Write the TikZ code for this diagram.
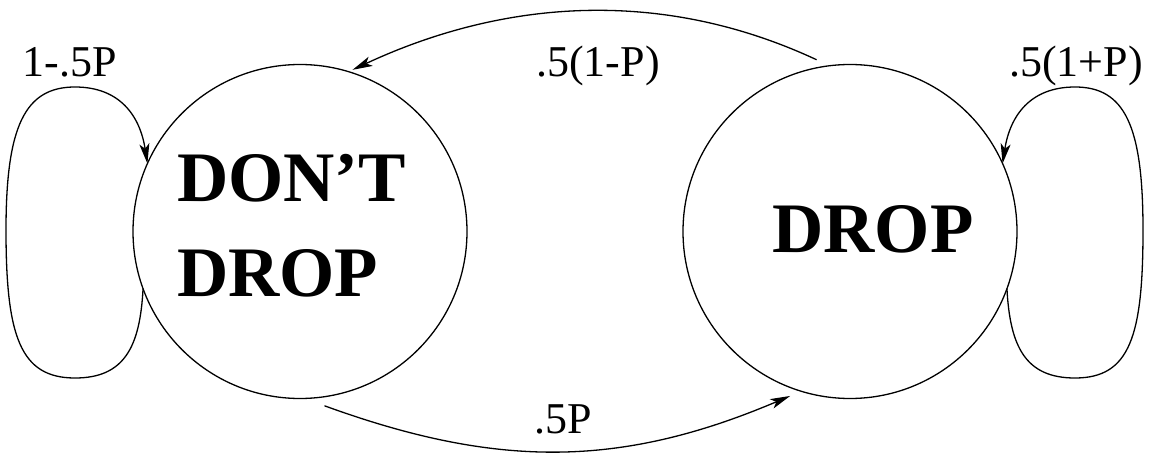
\documentclass[tikz,border=0pt]{standalone}
\usepackage{fontspec}
\setmainfont{Liberation Serif}
\usetikzlibrary{arrows.meta}
\begin{document}
\begin{tikzpicture}[x=1pt,y=1pt,
  state/.style={circle,draw,line width=1.3pt,minimum size=334pt,inner sep=0pt,outer sep=0pt},
  statetext/.style={inner sep=0pt,font=\fontsize{71}{95}\selectfont\bfseries},
  prob/.style={inner sep=0pt,font=\fontsize{44}{50}\selectfont},
  edge/.style={line width=1.3pt,-{Stealth[length=20pt,width=10pt,inset=5pt]}}]
\useasboundingbox (0,0) rectangle (1149,456);
\node[state] (L) at (300,224.5) {};
\node[state] (R) at (850,224.5) {};
\node[statetext,align=left,anchor=west] (Lt) at (177,230) {DON’T\\DROP};
\node[statetext,anchor=base] (Rt) at (873,204) {DROP};
% self loops
\draw[edge] (L.200) .. controls (140,110) and (125,78) .. (75,78)
  .. controls (20,78) and (6,120) .. (6,226)
  .. controls (6,330) and (25,369) .. (75,369)
  .. controls (120,369) and (140,340) .. (L.156);
\draw[edge] (R.-20) .. controls (1010,110) and (1025,78) .. (1075,78)
  .. controls (1130,78) and (1143,120) .. (1143,226)
  .. controls (1143,330) and (1125,369) .. (1075,369)
  .. controls (1030,369) and (1010,340) .. (R.24);
% transitions
\draw[edge] ([shift={(101.5:8)}]R.101.5) .. controls +(155:169) and +(25:169) .. ([shift={(72:3)}]L.72);
\draw[edge] ([shift={(-82:9)}]L.-82) .. controls +(-20:184) and +(203:184) .. ([shift={(-110:8)}]R.-110);
% labels
\node[prob,anchor=base] (lL) at (70,379) {1-.5P};
\node[prob,anchor=base] (lR) at (1076,379) {.5(1+P)};
\node[prob,anchor=base] (lT) at (598,379) {.5(1-P)};
\node[prob,anchor=base] (lB) at (563,23) {.5P};
\end{tikzpicture}
\end{document}
